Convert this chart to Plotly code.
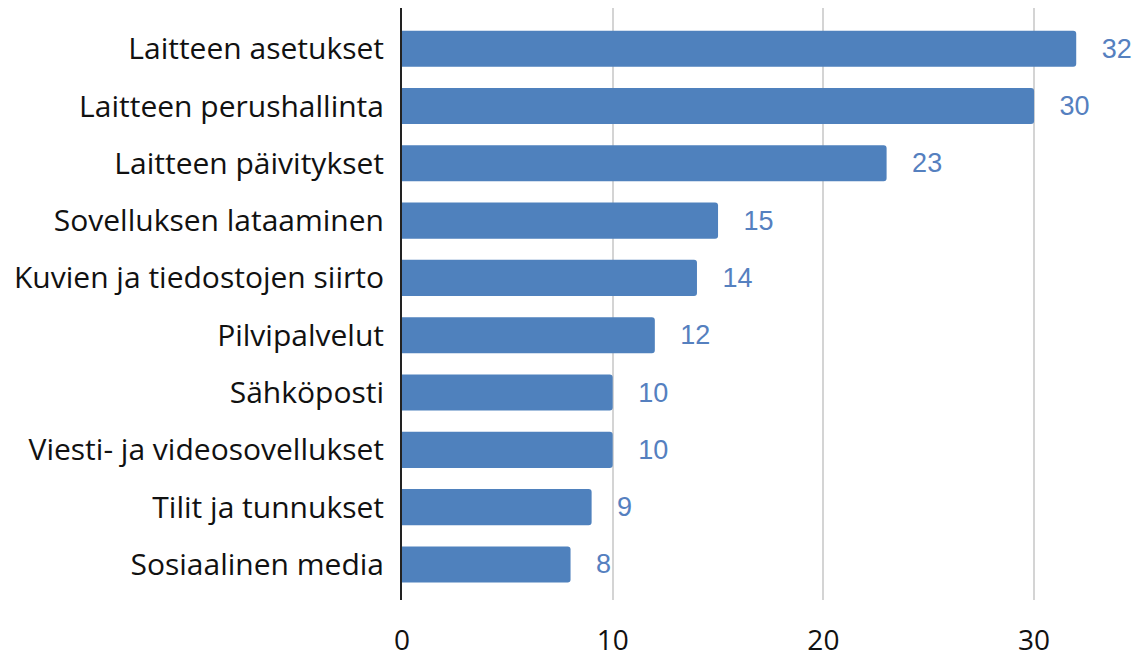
import plotly.graph_objects as go

categories = [
    "Laitteen asetukset",
    "Laitteen perushallinta",
    "Laitteen päivitykset",
    "Sovelluksen lataaminen",
    "Kuvien ja tiedostojen siirto",
    "Pilvipalvelut",
    "Sähköposti",
    "Viesti- ja videosovellukset",
    "Tilit ja tunnukset",
    "Sosiaalinen media",
]
values = [32, 30, 23, 15, 14, 12, 10, 10, 9, 8]
x_ticks = [0, 10, 20, 30]

fig = go.Figure(
    go.Bar(
        x=values,
        y=categories,
        orientation='h',
        width=0.63,
        marker=dict(color='#4f81bd', line=dict(width=0), cornerradius=3),
        text=["   " + str(v) for v in values],
        textposition='outside',
        textfont=dict(family='Liberation Sans, Arial', size=27, color='#5580bf'),
        cliponaxis=False,
    )
)

# page body has an 8px margin, so the figure is a bit smaller than the window
fig.update_layout(
    width=1126,
    height=650,
    margin=dict(l=394, r=3, t=0, b=49),
    plot_bgcolor='white',
    paper_bgcolor='white',
    showlegend=False,
)

fig.update_xaxes(
    range=[0, 34.6],
    tickvals=x_ticks,
    showgrid=True,
    gridcolor='#d4d4d4',
    gridwidth=2,
    zeroline=False,
    ticks='outside',
    ticklen=15,
    tickcolor='rgba(0,0,0,0)',
    tickfont=dict(family='Open Sans, Lato', size=28, color='#111'),
)

fig.update_yaxes(
    categoryorder='array',
    categoryarray=categories,
    range=[9.62, -0.71],
    showline=True,
    linecolor='#222',
    linewidth=2,
    ticks='outside',
    ticklen=10,
    tickcolor='rgba(0,0,0,0)',
    tickfont=dict(family='Open Sans, Lato', size=30, color='#111'),
)

fig.write_html("out.html")
